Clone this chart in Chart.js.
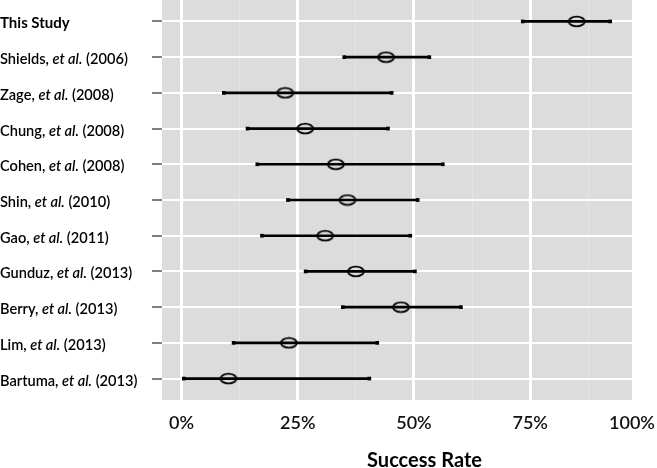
<!DOCTYPE html>
<html><head><meta charset="utf-8">
<script src="https://cdn.jsdelivr.net/npm/chart.js@4"></script>
<style>html,body{margin:0;padding:0;background:#fff;}#wrap{width:657px;height:468px;position:relative;}</style>
</head><body><div id="wrap"><canvas id="c" width="657" height="468"></canvas></div>
<script>
const studyNames = ["This Study","Shields","Zage","Chung","Cohen","Shin","Gao","Gunduz","Berry","Lim","Bartuma"];
const studyYears = ["","2006","2008","2008","2008","2010","2011","2013","2013","2013","2013"];
const estimates = [85.0,44.0,22.3,26.6,33.2,35.7,30.9,37.5,47.2,23.1,10.1];
const lowerCI   = [73.4,35.0, 9.1,14.2,16.3,22.9,17.3,26.7,34.7,11.2, 0.5];
const upperCI   = [92.2,53.3,45.2,44.4,56.2,50.8,49.2,50.2,60.1,42.1,40.4];
const xMajorTicks = [0,25,50,75,96.9];
const xTickLabels = ["0%","25%","50%","75%","100%"];
const xMinorTicks = [12.5,37.5,62.5,87.5];
const axisTitle = "Success Rate";

const FONT = "Lato, 'DejaVu Sans', sans-serif";

// open ellipse marker
const ell = document.createElement('canvas');
ell.width = 20; ell.height = 13;
(function(){const g = ell.getContext('2d'); g.lineWidth = 1.8; g.strokeStyle = '#000';
 g.beginPath(); g.ellipse(10, 6.5, 8, 4.8, 0, 0, Math.PI*2); g.stroke();})();

const rows = studyNames.map((_, i) => i);

const decor = {
  id: 'decor',
  beforeDraw(chart){
    const {ctx, chartArea:a} = chart;
    ctx.save(); ctx.fillStyle = '#dcdcdc';
    ctx.fillRect(a.left, a.top, a.right - a.left, a.bottom - a.top);
    ctx.restore();
  },
  afterDraw(chart){
    const {ctx, chartArea:a} = chart; const ys = chart.scales.y;
    ctx.save(); ctx.fillStyle = '#000'; ctx.textAlign = 'left'; ctx.textBaseline = 'alphabetic';
    studyNames.forEach((n, i) => {
      const y = ys.getPixelForValue(i) + 7;
      let x = 0;
      const parts = studyYears[i] === '' ? [[n, 'bold 15px ' + FONT]] :
        [[n + ', ', '600 14.6px ' + FONT], ['et al.', 'italic 600 14.6px ' + FONT], [' (' + studyYears[i] + ')', '600 14.6px ' + FONT]];
      parts.forEach(([t, f]) => { ctx.font = f; ctx.fillText(t, x, y); x += ctx.measureText(t).width; });
    });
    ctx.font = 'bold 20px ' + FONT; ctx.textAlign = 'center';
    ctx.fillText(axisTitle, a.left + 262.5, 467);
    ctx.restore();
  }
};

new Chart(document.getElementById('c'), {
  type: 'scatter',
  data: {
    datasets: [
      { type: 'scatter', order: 0, data: rows.map(i => ({x: estimates[i], y: i})),
        pointStyle: ell, pointRadius: 8, pointHoverRadius: 8 },
      { type: 'scatter', order: 1, data: rows.flatMap(i => [{x: lowerCI[i], y: i}, {x: upperCI[i], y: i}]),
        pointStyle: 'rect', pointRadius: 2.6, pointHoverRadius: 2.6, backgroundColor: '#000', borderWidth: 0 },
      { type: 'bar', order: 2, indexAxis: 'y', data: rows.map(i => ({x: [lowerCI[i], upperCI[i]], y: i})),
        backgroundColor: '#000', borderWidth: 0, barThickness: 2 }
    ]
  },
  options: {
    responsive: false, animation: false, devicePixelRatio: 1,
    layout: { autoPadding: false, padding: { left: 0, right: 25, top: 0, bottom: 0 } },
    plugins: { legend: { display: false }, tooltip: { enabled: false } },
    scales: {
      x: {
        type: 'linear', min: -4.2, max: 96.9, offset: false,
        afterBuildTicks: s => { s.ticks = [...xMajorTicks, ...xMinorTicks].sort((a,b)=>a-b).map(v => ({value: v})); },
        afterFit: s => { s.height = 68; s.paddingLeft = 0; s.paddingRight = 0; },
        border: { display: false },
        grid: {
          drawTicks: false, offset: false,
          color: c => { const v = c.tick && c.tick.value; const k = xMajorTicks.indexOf(v);
            if (k === xMajorTicks.length - 1) return 'rgba(0,0,0,0)';
            return k >= 0 ? '#ffffff' : '#e6e6e6'; },
          lineWidth: c => (xMajorTicks.indexOf(c.tick && c.tick.value) >= 0 ? 3 : 1)
        },
        ticks: {
          autoSkip: false, maxRotation: 0, padding: 12, color: '#111',
          font: { family: FONT, size: 18, weight: '600' },
          callback: v => { const k = xMajorTicks.indexOf(v); return k >= 0 ? xTickLabels[k] : ''; }
        }
      },
      y: {
        type: 'linear', min: -0.6, max: 10.6, reverse: true, offset: false,
        afterBuildTicks: s => { s.ticks = rows.map(i => ({value: i})); },
        afterFit: s => { s.width = 162; s.paddingTop = 0; s.paddingBottom = 0; },
        border: { display: false },
        grid: { offset: false, color: '#ffffff', lineWidth: 2, drawTicks: true, tickLength: 10, tickColor: '#7f7f7f', tickWidth: 2 },
        ticks: { display: false }
      }
    }
  },
  plugins: [decor]
});
</script></body></html>
